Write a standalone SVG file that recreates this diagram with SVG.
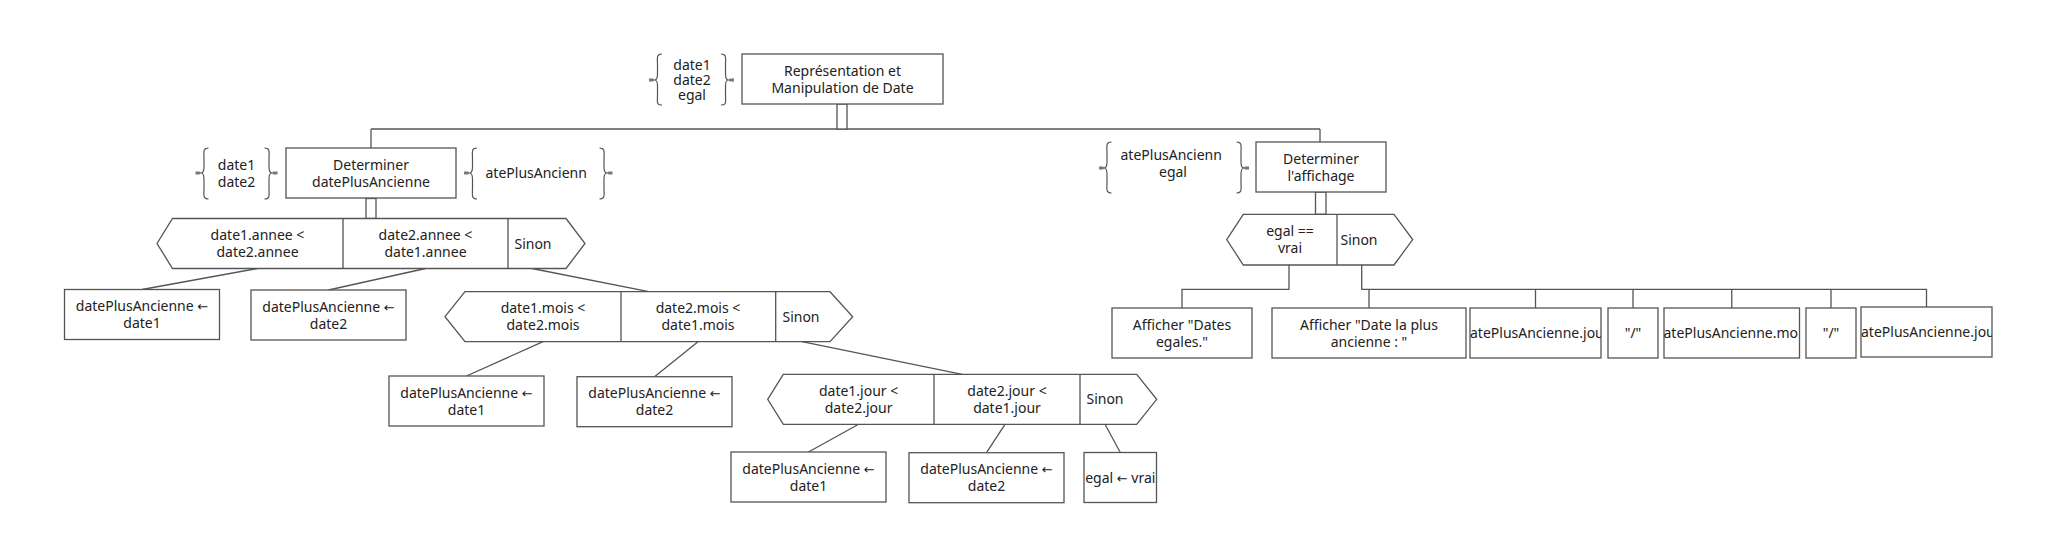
<svg xmlns="http://www.w3.org/2000/svg" width="2058" height="548" viewBox="0 0 2058 548">
<style>
.b{fill:#fff;stroke:#555;stroke-width:1.3}
.c{fill:none;stroke:#555;stroke-width:1.3}
.t{font-family:"Noto Sans","Open Sans",sans-serif;font-size:14px;fill:#222;text-anchor:middle}
.s{text-anchor:start}
.ar2{font-family:"DejaVu Sans",sans-serif;font-size:13px}
.br{fill:none;stroke:#555;stroke-width:1.2}
.ar{fill:#777}
</style>
<defs>
<clipPath id="clI"><rect x="1470" y="308" width="131" height="50"/></clipPath>
<clipPath id="clK"><rect x="1664" y="308" width="135.5" height="50"/></clipPath>
<clipPath id="clM"><rect x="1861" y="307" width="131" height="50"/></clipPath>
<clipPath id="clP1"><rect x="483" y="150" width="106" height="46"/></clipPath>
<clipPath id="clP2"><rect x="1118" y="144" width="106" height="46"/></clipPath>
</defs>
<rect width="2058" height="548" fill="#fff"/>

<g id="connectors">
<path class="c" d="M371,129 H1320 M371,129 V148 M1320,129 V142"/>
<rect class="b" x="837" y="104" width="10" height="25"/>
<rect class="b" x="366" y="198.5" width="10" height="20"/>
<rect class="b" x="1315.5" y="192" width="10.5" height="22.3"/>
<path class="c" d="M257.5,268.5 L142,289.5 M425.5,268.5 L328.5,290 M532,268.5 L648.8,291.7"/>
<path class="c" d="M543,341.7 L466.5,376 M698,341.7 L654.5,376.7 M802,341.7 L962.2,374.3"/>
<path class="c" d="M858.6,424.3 L808.5,452 M1005,424.3 L986.5,452.7 M1105,424.3 L1120.3,452.5"/>
<path class="c" d="M1289,265 V289.3 H1182 V308 M1361.7,265 V289.3 H1926.5 V307 M1369,289.3 V308 M1535.5,289.3 V308 M1633,289.3 V308 M1731.75,289.3 V308 M1831,289.3 V308"/>
</g>

<g id="n-main">
<rect class="b" x="742" y="54" width="201" height="50"/>
<text class="t" x="842.5" y="75.5">Représentation et</text>
<text class="t" x="842.5" y="92.5">Manipulation de Date</text>
</g>
<g id="p-main">
<path class="br" d="M662,54 C656,54 657.5,58 657.5,65 L657.5,74 C657.5,78 656,80 654.5,80 C656,80 657.5,82 657.5,86 L657.5,95 C657.5,102 656,105 662,105"/>
<path class="br" d="M721,54 C727,54 725.5,58 725.5,65 L725.5,74 C725.5,78 727,80 728.5,80 C727,80 725.5,82 725.5,86 L725.5,95 C725.5,102 727,105 721,105"/>
<polygon class="ar" points="649,78.5 653,78.5 655,80 653,81.5 649,81.5"/>
<polygon class="ar" points="734,78.5 730,78.5 728,80 730,81.5 734,81.5"/>
<text class="t" x="692" y="70">date1</text>
<text class="t" x="692" y="85">date2</text>
<text class="t" x="692" y="100">egal</text>
</g>

<g id="n-det1">
<rect class="b" x="286" y="148" width="170" height="50"/>
<text class="t" x="371" y="169.5">Determiner</text>
<text class="t" x="371" y="186.5">datePlusAncienne</text>
</g>
<g id="p-det1-in">
<path class="br" d="M208.5,148 C202.5,148 204,152 204,159 L204,167 C204,171 202.5,173 201,173 C202.5,173 204,175 204,179 L204,188 C204,195 202.5,199 208.5,199"/>
<path class="br" d="M264.5,148 C270.5,148 269,152 269,159 L269,167 C269,171 270.5,173 272,173 C270.5,173 269,175 269,179 L269,188 C269,195 270.5,199 264.5,199"/>
<polygon class="ar" points="195.5,171.5 199.5,171.5 201.5,173 199.5,174.5 195.5,174.5"/>
<polygon class="ar" points="277.5,171.5 273.5,171.5 271.5,173 273.5,174.5 277.5,174.5"/>
<text class="t" x="236.5" y="169.5">date1</text>
<text class="t" x="236.5" y="186.5">date2</text>
</g>
<g id="p-det1-out">
<path class="br" d="M477,148 C471,148 472.5,152 472.5,159 L472.5,167 C472.5,171 471,173 469.5,173 C471,173 472.5,175 472.5,179 L472.5,188 C472.5,195 471,199 477,199"/>
<path class="br" d="M599.5,148 C605.5,148 604,152 604,159 L604,167 C604,171 605.5,173 607,173 C605.5,173 604,175 604,179 L604,188 C604,195 605.5,199 599.5,199"/>
<polygon class="ar" points="464,171.5 468,171.5 470,173 468,174.5 464,174.5"/>
<polygon class="ar" points="612.5,171.5 608.5,171.5 606.5,173 608.5,174.5 612.5,174.5"/>
<text class="t s" x="485.5" y="178" clip-path="url(#clP1)">atePlusAncienn</text>
</g>

<g id="n-sel1">
<polygon class="b" points="157,243.5 172.5,218.5 566,218.5 585,243.5 566,268.5 172.5,268.5"/>
<path class="c" d="M343,218.5 V268.5 M508,218.5 V268.5"/>
<text class="t" x="257.5" y="240">date1.annee &lt;</text>
<text class="t" x="257.5" y="257">date2.annee</text>
<text class="t" x="425.5" y="240">date2.annee &lt;</text>
<text class="t" x="425.5" y="257">date1.annee</text>
<text class="t" x="533" y="248.5">Sinon</text>
</g>

<g id="n-a1">
<rect class="b" x="64.5" y="289.5" width="155" height="50"/>
<text class="t" x="142" y="311">datePlusAncienne <tspan class="ar2">←</tspan></text>
<text class="t" x="142" y="328">date1</text>
</g>
<g id="n-a2">
<rect class="b" x="251" y="290" width="155" height="50"/>
<text class="t" x="328.5" y="311.5">datePlusAncienne <tspan class="ar2">←</tspan></text>
<text class="t" x="328.5" y="328.5">date2</text>
</g>

<g id="n-sel2">
<polygon class="b" points="445,316.7 465,291.7 830,291.7 852.7,316.7 830,341.7 465,341.7"/>
<path class="c" d="M621,291.7 V341.7 M775.7,291.7 V341.7"/>
<text class="t" x="543" y="313">date1.mois &lt;</text>
<text class="t" x="543" y="330">date2.mois</text>
<text class="t" x="698" y="313">date2.mois &lt;</text>
<text class="t" x="698" y="330">date1.mois</text>
<text class="t" x="801" y="321.7">Sinon</text>
</g>

<g id="n-b1">
<rect class="b" x="389" y="376" width="155" height="50"/>
<text class="t" x="466.5" y="397.5">datePlusAncienne <tspan class="ar2">←</tspan></text>
<text class="t" x="466.5" y="414.5">date1</text>
</g>
<g id="n-b2">
<rect class="b" x="577" y="376.7" width="155" height="50"/>
<text class="t" x="654.5" y="398">datePlusAncienne <tspan class="ar2">←</tspan></text>
<text class="t" x="654.5" y="415">date2</text>
</g>

<g id="n-sel3">
<polygon class="b" points="767.7,399.3 783.3,374.3 1136.7,374.3 1156.7,399.3 1136.7,424.3 783.3,424.3"/>
<path class="c" d="M934,374.3 V424.3 M1080,374.3 V424.3"/>
<text class="t" x="858.6" y="395.8">date1.jour &lt;</text>
<text class="t" x="858.6" y="412.8">date2.jour</text>
<text class="t" x="1007" y="395.8">date2.jour &lt;</text>
<text class="t" x="1007" y="412.8">date1.jour</text>
<text class="t" x="1105" y="404.3">Sinon</text>
</g>

<g id="n-c1">
<rect class="b" x="731" y="452" width="155" height="50"/>
<text class="t" x="808.5" y="473.5">datePlusAncienne <tspan class="ar2">←</tspan></text>
<text class="t" x="808.5" y="490.5">date1</text>
</g>
<g id="n-c2">
<rect class="b" x="909" y="452.7" width="155" height="50"/>
<text class="t" x="986.5" y="474">datePlusAncienne <tspan class="ar2">←</tspan></text>
<text class="t" x="986.5" y="491">date2</text>
</g>
<g id="n-c3">
<rect class="b" x="1084" y="452.5" width="72.5" height="50"/>
<text class="t" x="1120.3" y="482.5">egal <tspan class="ar2">←</tspan> vrai</text>
</g>

<g id="n-det2">
<rect class="b" x="1256" y="142" width="130" height="50"/>
<text class="t" x="1321" y="163.5">Determiner</text>
<text class="t" x="1321" y="180.5">l'affichage</text>
</g>
<g id="p-det2-in">
<path class="br" d="M1111.5,142 C1105.5,142 1107,146 1107,153 L1107,162 C1107,166 1105.5,168 1104,168 C1105.5,168 1107,170 1107,174 L1107,182 C1107,189 1105.5,193 1111.5,193"/>
<path class="br" d="M1236.5,142 C1242.5,142 1241,146 1241,153 L1241,162 C1241,166 1242.5,168 1244,168 C1242.5,168 1241,170 1241,174 L1241,182 C1241,189 1242.5,193 1236.5,193"/>
<polygon class="ar" points="1099,166.5 1103,166.5 1105,168 1103,169.5 1099,169.5"/>
<polygon class="ar" points="1249,166.5 1245,166.5 1243,168 1245,169.5 1249,169.5"/>
<text class="t s" x="1120.5" y="159.5" clip-path="url(#clP2)">atePlusAncienn</text>
<text class="t" x="1173" y="176.5">egal</text>
</g>

<g id="n-sel4">
<polygon class="b" points="1226.7,239.6 1243.3,214.3 1394,214.3 1412.7,239.6 1394,265 1243.3,265"/>
<path class="c" d="M1337,214.3 V265"/>
<text class="t" x="1290" y="236">egal ==</text>
<text class="t" x="1290" y="253">vrai</text>
<text class="t" x="1359" y="244.6">Sinon</text>
</g>

<g id="n-d1">
<rect class="b" x="1112" y="308" width="140" height="50"/>
<text class="t" x="1182" y="329.5">Afficher "Dates</text>
<text class="t" x="1182" y="346.5">egales."</text>
</g>
<g id="n-d2">
<rect class="b" x="1272" y="308" width="194" height="50"/>
<text class="t" x="1369" y="329.5">Afficher "Date la plus</text>
<text class="t" x="1369" y="346.5">ancienne : "</text>
</g>
<g id="n-d3">
<rect class="b" x="1470" y="308" width="131" height="50"/>
<text class="t s" x="1470" y="338" clip-path="url(#clI)">atePlusAncienne.jou</text>
</g>
<g id="n-d4">
<rect class="b" x="1608" y="308" width="50" height="50"/>
<text class="t" x="1633" y="338">"/"</text>
</g>
<g id="n-d5">
<rect class="b" x="1664" y="308" width="135.5" height="50"/>
<text class="t s" x="1663.5" y="338" clip-path="url(#clK)">atePlusAncienne.mo</text>
</g>
<g id="n-d6">
<rect class="b" x="1806" y="308" width="50" height="50"/>
<text class="t" x="1831" y="338">"/"</text>
</g>
<g id="n-d7">
<rect class="b" x="1861" y="307" width="131" height="50"/>
<text class="t s" x="1861" y="337" clip-path="url(#clM)">atePlusAncienne.jou</text>
</g>
</svg>
